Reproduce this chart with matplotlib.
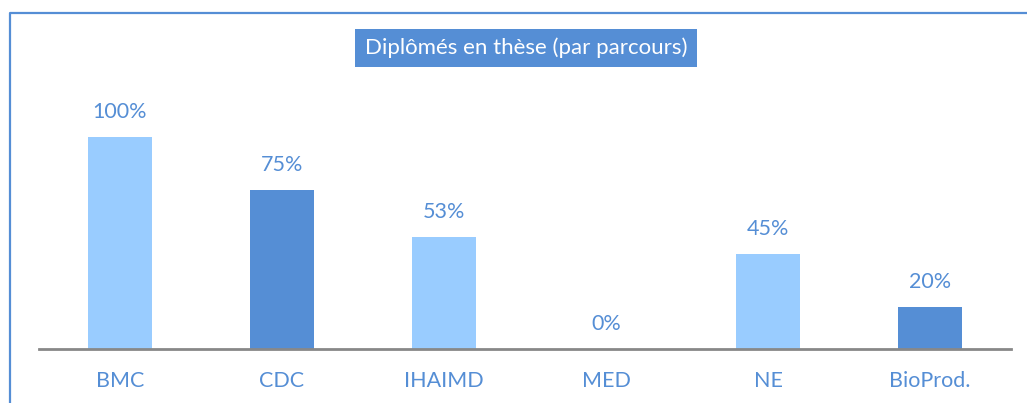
import matplotlib
matplotlib.use("Agg")
import matplotlib.pyplot as plt
from matplotlib.patches import Rectangle
from matplotlib.lines import Line2D

# parcours and share of graduates doing a thesis
parcours = ["BMC", "CDC", "IHAIMD", "MED", "NE", "BioProd."]
pourcentages = [100, 75, 53, 0, 45, 20]
couleurs = ["#99CCFF", "#558ED5", "#99CCFF", "#99CCFF", "#99CCFF", "#558ED5"]
titre = "Diplômés en thèse (par parcours)"

BLEU = "#558ED5"
W, H = 1027, 403

plt.rcParams["font.family"] = ["Lato", "DejaVu Sans"]

fig = plt.figure(figsize=(W / 100, H / 100), dpi=100)

# axes placed in pixels: axis line 39..1011, baseline at y=349
left, right, base = 39, 1011, 349
ymax = 130
px_per_pct = 2.12
ax_h = ymax * px_per_pct
ax = fig.add_axes([left / W, (H - base) / H, (right - left) / W, ax_h / H])

x = range(len(parcours))
ax.bar(x, pourcentages, width=0.4, color=couleurs)
ax.set_xlim(-0.5, len(parcours) - 0.5)
ax.set_ylim(0, ymax)

# value labels above bars
for i, v in enumerate(pourcentages):
    ax.annotate(f"{v}%", (i, v), xytext=(0, 25), textcoords="offset pixels",
                ha="center", va="center", fontsize=15.5, color=BLEU)

ax.set_xticks(list(x))
ax.set_xticklabels(parcours, fontsize=15.5, color=BLEU)
ax.tick_params(axis="x", length=0, pad=16)
ax.set_yticks([])
for s in ["top", "right", "left"]:
    ax.spines[s].set_visible(False)
ax.spines["bottom"].set_color("#888888")
ax.spines["bottom"].set_linewidth(2)

# title in a filled box
fig.patches.append(Rectangle((355 / W, 1 - 67 / H), 342 / W, 38 / H,
                             transform=fig.transFigure, facecolor=BLEU,
                             edgecolor="none"))
fig.text(526 / W, 1 - 48 / H, titre, ha="center", va="center", fontsize=16,
         color="white")

# outer frame, only left and top visible (rest is cut off)
fig.lines.append(Line2D([9.5 / W, 9.5 / W, 1.05], [-0.05, 1 - 13 / H, 1 - 13 / H],
                        transform=fig.transFigure, color=BLEU, linewidth=1.6))

fig.savefig("out.png", dpi=100)
